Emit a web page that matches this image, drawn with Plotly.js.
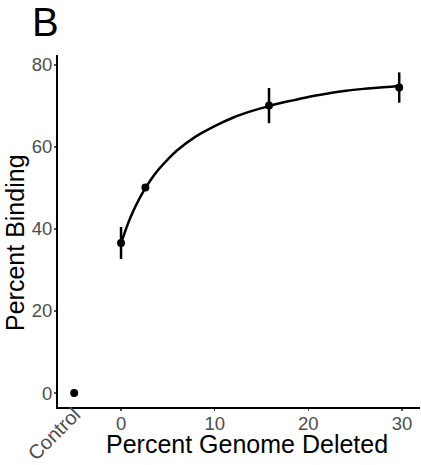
<!DOCTYPE html>
<html>
<head>
<meta charset="utf-8">
<script src="https://cdn.plot.ly/plotly-3.0.1.min.js"></script>
<style>html,body{margin:0;padding:0;background:#fff;}#chart{width:421px;height:465px;}</style>
</head>
<body>
<div id="chart"></div>
<script>
// Measured points
var pointX = [-5, 0, 2.6, 15.8, 29.7];
var pointY = [0, 36.6, 50.1, 70.1, 74.5];
var pointErr = [0, 3.9, 0, 4.3, 3.7];

// Fitted curve
var curveX = [0, 1, 2, 3, 4, 5, 6, 8, 10, 12, 14, 16, 18, 20, 22, 24, 26, 28, 30];
var curveY = [36.5, 42.8, 47.6, 51.4, 54.5, 57.0, 59.2, 62.6, 65.1, 67.2, 68.8, 70.1, 71.2, 72.2, 73.0, 73.7, 74.2, 74.6, 74.9];

var tickVals = [0, 10, 20, 30];
var tickText = ['0', '10', '20', '30'];
var yTickVals = [0, 20, 40, 60, 80];
var controlLabel = 'Control';
var xTitle = 'Percent Genome Deleted';
var yTitle = 'Percent Binding';

var font = 'Liberation Sans, Arial, Helvetica, sans-serif';

var traces = [
  {x: curveX, y: curveY, type: 'scatter', mode: 'lines', line: {color: '#000', width: 2.5, shape: 'spline'}, hoverinfo: 'skip'},
  {x: pointX, y: pointY, type: 'scatter', mode: 'markers',
   marker: {color: '#000', size: 8},
   error_y: {type: 'data', array: pointErr, visible: true, color: '#000', thickness: 2.5, width: 0}}
];

var layout = {
  width: 421, height: 465,
  margin: {l: 58, r: 1, t: 55, b: 58},
  paper_bgcolor: '#fff', plot_bgcolor: '#fff',
  showlegend: false,
  font: {family: font, color: '#000'},
  title: {text: 'B', x: 0.076, xref: 'container', xanchor: 'left', y: 0.982, yref: 'container', yanchor: 'top', font: {size: 40, family: font, color: '#000'}},
  xaxis: {
    range: [-6.73, 31.92], showgrid: false, zeroline: false,
    showline: true, linecolor: '#000', linewidth: 2,
    tickvals: tickVals, ticktext: tickText,
    ticks: 'outside', ticklen: 2, tickwidth: 1.5, tickcolor: '#555',
    ticklabelstandoff: -3,
    tickfont: {size: 18.5, color: '#4d4d4d', family: font},
    automargin: false
  },
  yaxis: {
    range: [-3.41, 82.44], showgrid: false, zeroline: false,
    showline: true, linecolor: '#000', linewidth: 2,
    tickvals: yTickVals,
    ticks: 'outside', ticklen: 2, tickwidth: 1.5, tickcolor: '#555',
    ticklabelstandoff: -2,
    tickfont: {size: 18.5, color: '#4d4d4d', family: font},
    automargin: false
  },
  annotations: [
    {x: -5, y: 0, xref: 'x', yref: 'paper', text: controlLabel, showarrow: false,
     textangle: -45, xanchor: 'right', yanchor: 'top', xshift: 13, yshift: 6,
     font: {size: 20, color: '#4d4d4d', family: font}},
    {x: 0.522, y: 0, xref: 'paper', yref: 'paper', text: xTitle, showarrow: false,
     xanchor: 'center', yanchor: 'middle', yshift: -37, borderpad: 0,
     font: {size: 25, color: '#000', family: font}},
    {x: 0, y: 0.466, xref: 'paper', yref: 'paper', text: yTitle, showarrow: false,
     textangle: -90, xanchor: 'center', yanchor: 'middle', xshift: -43, borderpad: 0,
     font: {size: 25, color: '#000', family: font}}
  ]
};

Plotly.newPlot('chart', traces, layout, {displayModeBar: false, staticPlot: true});
</script>
</body>
</html>
